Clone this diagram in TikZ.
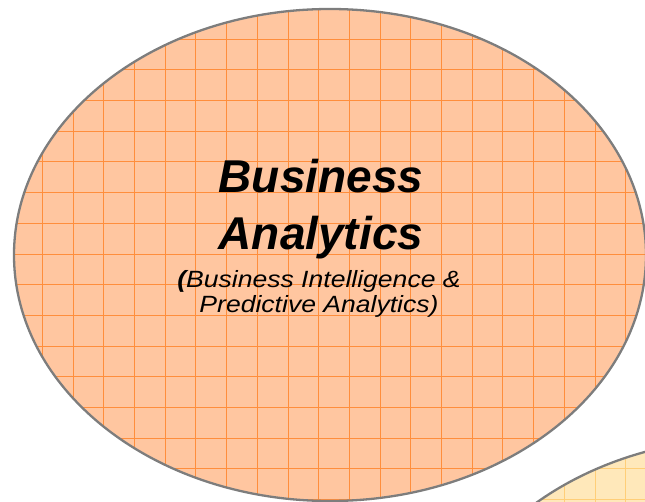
\documentclass[tikz,border=0pt]{standalone}
\usepackage{fontspec}
\usepackage{xcolor}
\usepackage{tikz}
\setmainfont{Liberation Sans}
\newfontfamily\subfont[FakeStretch=1.13]{Liberation Sans}
\definecolor{bafill}{RGB}{255,198,160}
\definecolor{bagrid}{RGB}{255,142,60}
\definecolor{dmfill}{RGB}{255,232,186}
\definecolor{dmgrid}{RGB}{255,206,120}
\definecolor{rim}{RGB}{125,125,125}
\tikzstyle{bubble} = [draw=rim, line width=2.3pt]
\tikzstyle{title} = [anchor=base, inner sep=0pt, font=\fontsize{46}{57}\selectfont\bfseries\itshape]
\tikzstyle{subtitle} = [anchor=base, inner sep=0pt, font=\fontsize{23.5}{25}\subfont\itshape]

\begin{document}
\begin{tikzpicture}[x=1pt, y=-1pt]
	\useasboundingbox (0,0) rectangle (645,502);

	% second bubble, only its top left shows
	\begin{scope}
		\clip (750,684) ellipse [x radius=316, y radius=246];
		\fill[dmfill] (400,400) rectangle (650,510);
		\draw[dmgrid, line width=0.7pt, step=30.7pt, shift={(11.6,8.3)}] (380,380) grid (660,520);
	\end{scope}
	\draw [bubble] (750,684) ellipse [x radius=316, y radius=246];

	% business analytics bubble
	\begin{scope}
		\clip (330,255) ellipse [x radius=316, y radius=246];
		\fill[bafill] (0,0) rectangle (650,510);
		\draw[bagrid, line width=0.7pt, step=30.7pt, shift={(11.6,8.3)}] (-20,-20) grid (660,520);
	\end{scope}
	\draw [bubble] (330,255) ellipse [x radius=316, y radius=246];

	\node (bus) [title] at (321,193) {Business};
	\node (ana) [title] at (321,250) {Analytics};
	\node (sub1) [subtitle] at (319,288) {{\bfseries(}Business Intelligence \&};
	\node (sub2) [subtitle] at (319,313) {Predictive Analytics)};

\end{tikzpicture}
\end{document}
